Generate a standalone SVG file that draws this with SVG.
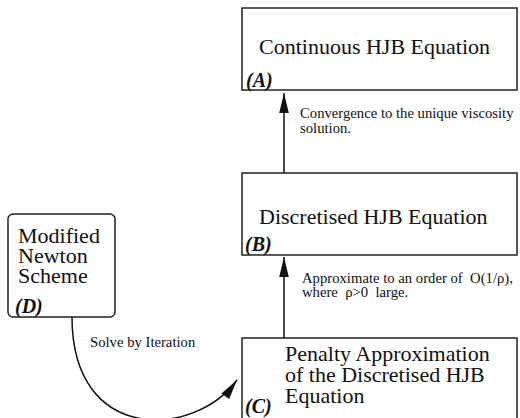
<svg xmlns="http://www.w3.org/2000/svg" width="520" height="418" viewBox="0 0 520 418">
<style>
.box{fill:#fff;stroke:#222;stroke-width:1.5}
.t{font-family:"Liberation Serif","Times New Roman",serif;font-size:22px;fill:#111}
.lab{font-family:"Liberation Serif","Times New Roman",serif;font-size:20px;font-weight:bold;font-style:italic;fill:#111}
.e{font-family:"Liberation Serif","Times New Roman",serif;font-size:14.7px;fill:#111}
.c{fill:none;stroke:#111;stroke-width:1.5}
</style>
<defs>
<marker id="ah" markerUnits="userSpaceOnUse" markerWidth="24" markerHeight="14" viewBox="-21 -7 24 14" refX="0" refY="0" orient="auto">
<path d="M0,0 L-20,-4.8 L-20,4.8 Z" fill="#111"/>
</marker>
</defs>
<rect width="520" height="418" fill="#fff"/>
<g id="A">
<rect class="box" x="242" y="8" width="275" height="82"/>
<text class="t" x="259" y="54">Continuous HJB Equation</text>
<text class="lab" x="246" y="87">(A)</text>
</g>
<g id="B">
<rect class="box" x="242" y="173" width="275" height="82"/>
<text class="t" x="259" y="224">Discretised HJB Equation</text>
<text class="lab" x="245" y="251">(B)</text>
</g>
<g id="C">
<rect class="box" x="242" y="338" width="275" height="100"/>
<text class="t" x="285" y="361">Penalty Approximation</text>
<text class="t" x="285" y="382">of the Discretised HJB</text>
<text class="t" x="285" y="403">Equation</text>
<text class="lab" x="245" y="413">(C)</text>
</g>
<g id="D">
<rect class="box" x="8" y="214" width="107" height="103" rx="5"/>
<text class="t" x="18" y="243">Modified</text>
<text class="t" x="18" y="263">Newton</text>
<text class="t" x="18" y="283">Scheme</text>
<text class="lab" x="15" y="313">(D)</text>
</g>
<g id="connectors">
<line class="c" x1="284" y1="173" x2="284" y2="93" marker-end="url(#ah)"/>
<line class="c" x1="284" y1="338" x2="284" y2="257" marker-end="url(#ah)"/>
<path class="c" stroke-width="1.3" d="M72,317 C72,445 195,438 237,380" marker-end="url(#ah)"/>
<text class="e" x="300" y="118">Convergence to the unique viscosity</text>
<text class="e" x="300" y="133">solution.</text>
<text class="e" x="302" y="283" xml:space="preserve">Approximate to an order of  O(1/ρ),</text>
<text class="e" x="302" y="297" xml:space="preserve">where  ρ&gt;0  large.</text>
<text class="e" x="90" y="347">Solve by Iteration</text>
</g>
</svg>
